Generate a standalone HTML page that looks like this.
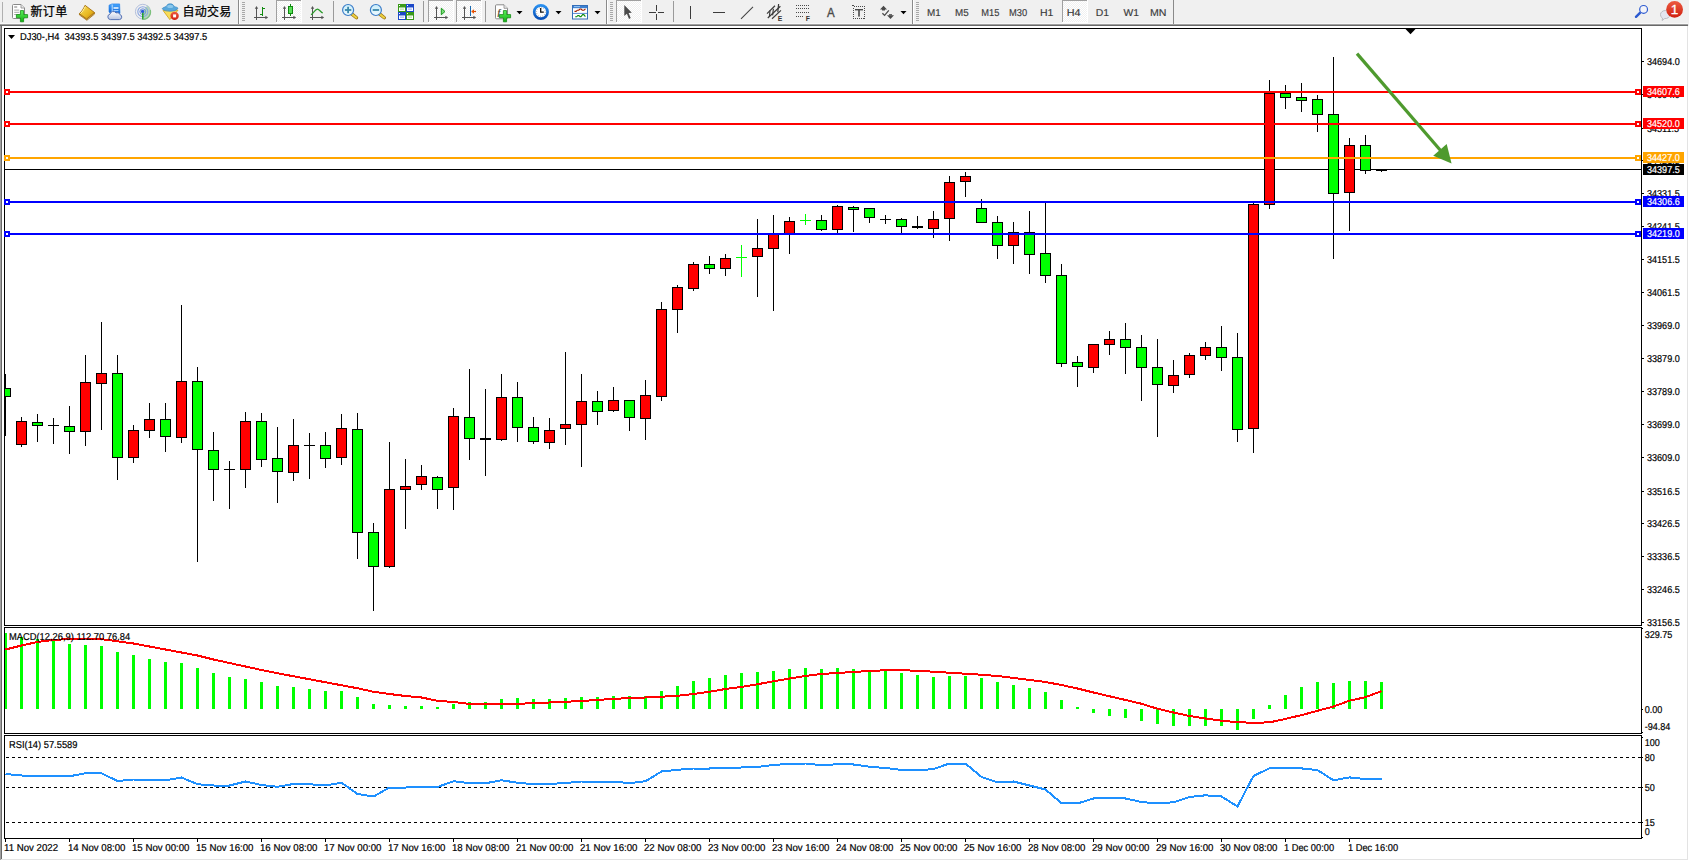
<!DOCTYPE html>
<html lang="zh"><head><meta charset="utf-8"><title>DJ30-,H4</title>
<style>
html,body{margin:0;padding:0;}
body{width:1689px;height:861px;overflow:hidden;background:#f0f0f0;position:relative;font-family:"Liberation Sans", Arial, sans-serif;}
#chart text{font-family:"Liberation Sans", Arial, sans-serif;font-size:10px;text-rendering:geometricPrecision;}
#tb{position:absolute;left:0;top:0;width:1689px;height:26px;background:#f0f0f0;}
#tb .l1{position:absolute;left:0;top:23px;width:1688px;height:1px;background:#f8f8f8}
#tb .l2{position:absolute;left:0;top:24px;width:1688px;height:1px;background:#a0a0a0}
#tb .l3{position:absolute;left:0;top:25px;width:1688px;height:1px;background:#696969}
</style></head><body>
<svg id="chart" width="1689" height="861" viewBox="0 0 1689 861" shape-rendering="crispEdges" style="position:absolute;left:0;top:0">
<rect x="0" y="26" width="1689" height="835" fill="#fff"/>
<rect x="0" y="24" width="1" height="836" fill="#a0a0a0"/>
<rect x="1" y="25" width="1" height="834" fill="#696969"/>
<rect x="1687" y="26" width="1" height="834" fill="#e3e3e3"/>
<rect x="1688" y="24" width="1" height="837" fill="#ffffff"/>
<rect x="1" y="859" width="1687" height="1" fill="#e3e3e3"/>
<rect x="0" y="860" width="1689" height="1" fill="#ffffff"/>
<rect x="4" y="28" width="1638" height="1" fill="#000"/>
<rect x="4" y="28" width="1" height="598" fill="#000"/>
<rect x="1641" y="28" width="1" height="598" fill="#000"/>
<rect x="4" y="627" width="1" height="107" fill="#000"/>
<rect x="1641" y="627" width="1" height="107" fill="#000"/>
<rect x="4" y="735" width="1" height="104" fill="#000"/>
<rect x="1641" y="735" width="1" height="104" fill="#000"/>
<rect x="4" y="625" width="1638" height="1" fill="#000"/>
<rect x="4" y="627" width="1638" height="1" fill="#000"/>
<rect x="4" y="733" width="1638" height="1" fill="#000"/>
<rect x="4" y="735" width="1638" height="1" fill="#000"/>
<rect x="4" y="838" width="1638" height="1" fill="#000"/>
<polygon points="1405.5,29 1415.5,29 1410.5,34.2" fill="#000" shape-rendering="geometricPrecision"/>
<defs><clipPath id="cm"><rect x="5" y="29" width="1636" height="596"/></clipPath></defs>
<g clip-path="url(#cm)">
<rect x="5" y="169" width="1636" height="1" fill="#000"/>
<rect x="5" y="374" width="1" height="62" fill="#000"/>
<rect x="0" y="388" width="11" height="9" fill="#000"/>
<rect x="1" y="389" width="9" height="7" fill="#00ff00"/>
<rect x="21" y="417" width="1" height="30" fill="#000"/>
<rect x="16" y="421" width="11" height="24" fill="#000"/>
<rect x="17" y="422" width="9" height="22" fill="#ff0000"/>
<rect x="37" y="414" width="1" height="28" fill="#000"/>
<rect x="32" y="422" width="11" height="4" fill="#000"/>
<rect x="33" y="423" width="9" height="2" fill="#00ff00"/>
<rect x="53" y="418" width="1" height="26" fill="#000"/>
<rect x="48" y="425" width="11" height="1" fill="#000"/>
<rect x="69" y="406" width="1" height="48" fill="#000"/>
<rect x="64" y="426" width="11" height="6" fill="#000"/>
<rect x="65" y="427" width="9" height="4" fill="#00ff00"/>
<rect x="85" y="355" width="1" height="91" fill="#000"/>
<rect x="80" y="382" width="11" height="50" fill="#000"/>
<rect x="81" y="383" width="9" height="48" fill="#ff0000"/>
<rect x="101" y="322" width="1" height="108" fill="#000"/>
<rect x="96" y="373" width="11" height="11" fill="#000"/>
<rect x="97" y="374" width="9" height="9" fill="#ff0000"/>
<rect x="117" y="355" width="1" height="125" fill="#000"/>
<rect x="112" y="373" width="11" height="85" fill="#000"/>
<rect x="113" y="374" width="9" height="83" fill="#00ff00"/>
<rect x="133" y="425" width="1" height="38" fill="#000"/>
<rect x="128" y="430" width="11" height="28" fill="#000"/>
<rect x="129" y="431" width="9" height="26" fill="#ff0000"/>
<rect x="149" y="403" width="1" height="35" fill="#000"/>
<rect x="144" y="419" width="11" height="12" fill="#000"/>
<rect x="145" y="420" width="9" height="10" fill="#ff0000"/>
<rect x="165" y="403" width="1" height="49" fill="#000"/>
<rect x="160" y="419" width="11" height="18" fill="#000"/>
<rect x="161" y="420" width="9" height="16" fill="#00ff00"/>
<rect x="181" y="305" width="1" height="138" fill="#000"/>
<rect x="176" y="381" width="11" height="57" fill="#000"/>
<rect x="177" y="382" width="9" height="55" fill="#ff0000"/>
<rect x="197" y="367" width="1" height="195" fill="#000"/>
<rect x="192" y="381" width="11" height="69" fill="#000"/>
<rect x="193" y="382" width="9" height="67" fill="#00ff00"/>
<rect x="213" y="432" width="1" height="69" fill="#000"/>
<rect x="208" y="450" width="11" height="20" fill="#000"/>
<rect x="209" y="451" width="9" height="18" fill="#00ff00"/>
<rect x="229" y="461" width="1" height="48" fill="#000"/>
<rect x="224" y="469" width="11" height="1" fill="#000"/>
<rect x="245" y="412" width="1" height="76" fill="#000"/>
<rect x="240" y="421" width="11" height="49" fill="#000"/>
<rect x="241" y="422" width="9" height="47" fill="#ff0000"/>
<rect x="261" y="413" width="1" height="54" fill="#000"/>
<rect x="256" y="421" width="11" height="39" fill="#000"/>
<rect x="257" y="422" width="9" height="37" fill="#00ff00"/>
<rect x="277" y="427" width="1" height="76" fill="#000"/>
<rect x="272" y="458" width="11" height="14" fill="#000"/>
<rect x="273" y="459" width="9" height="12" fill="#00ff00"/>
<rect x="293" y="419" width="1" height="62" fill="#000"/>
<rect x="288" y="445" width="11" height="28" fill="#000"/>
<rect x="289" y="446" width="9" height="26" fill="#ff0000"/>
<rect x="309" y="433" width="1" height="46" fill="#000"/>
<rect x="304" y="445" width="11" height="1" fill="#000"/>
<rect x="325" y="432" width="1" height="36" fill="#000"/>
<rect x="320" y="445" width="11" height="14" fill="#000"/>
<rect x="321" y="446" width="9" height="12" fill="#00ff00"/>
<rect x="341" y="414" width="1" height="51" fill="#000"/>
<rect x="336" y="428" width="11" height="30" fill="#000"/>
<rect x="337" y="429" width="9" height="28" fill="#ff0000"/>
<rect x="357" y="413" width="1" height="146" fill="#000"/>
<rect x="352" y="429" width="11" height="104" fill="#000"/>
<rect x="353" y="430" width="9" height="102" fill="#00ff00"/>
<rect x="373" y="523" width="1" height="88" fill="#000"/>
<rect x="368" y="532" width="11" height="35" fill="#000"/>
<rect x="369" y="533" width="9" height="33" fill="#00ff00"/>
<rect x="389" y="442" width="1" height="126" fill="#000"/>
<rect x="384" y="489" width="11" height="78" fill="#000"/>
<rect x="385" y="490" width="9" height="76" fill="#ff0000"/>
<rect x="405" y="459" width="1" height="70" fill="#000"/>
<rect x="400" y="486" width="11" height="4" fill="#000"/>
<rect x="401" y="487" width="9" height="2" fill="#ff0000"/>
<rect x="421" y="465" width="1" height="25" fill="#000"/>
<rect x="416" y="476" width="11" height="9" fill="#000"/>
<rect x="417" y="477" width="9" height="7" fill="#ff0000"/>
<rect x="437" y="476" width="1" height="33" fill="#000"/>
<rect x="432" y="477" width="11" height="13" fill="#000"/>
<rect x="433" y="478" width="9" height="11" fill="#00ff00"/>
<rect x="453" y="408" width="1" height="102" fill="#000"/>
<rect x="448" y="416" width="11" height="72" fill="#000"/>
<rect x="449" y="417" width="9" height="70" fill="#ff0000"/>
<rect x="469" y="369" width="1" height="91" fill="#000"/>
<rect x="464" y="417" width="11" height="22" fill="#000"/>
<rect x="465" y="418" width="9" height="20" fill="#00ff00"/>
<rect x="485" y="389" width="1" height="87" fill="#000"/>
<rect x="480" y="438" width="11" height="2" fill="#000"/>
<rect x="501" y="374" width="1" height="67" fill="#000"/>
<rect x="496" y="397" width="11" height="43" fill="#000"/>
<rect x="497" y="398" width="9" height="41" fill="#ff0000"/>
<rect x="517" y="382" width="1" height="60" fill="#000"/>
<rect x="512" y="397" width="11" height="31" fill="#000"/>
<rect x="513" y="398" width="9" height="29" fill="#00ff00"/>
<rect x="533" y="417" width="1" height="27" fill="#000"/>
<rect x="528" y="427" width="11" height="15" fill="#000"/>
<rect x="529" y="428" width="9" height="13" fill="#00ff00"/>
<rect x="549" y="418" width="1" height="31" fill="#000"/>
<rect x="544" y="430" width="11" height="13" fill="#000"/>
<rect x="545" y="431" width="9" height="11" fill="#ff0000"/>
<rect x="565" y="352" width="1" height="93" fill="#000"/>
<rect x="560" y="424" width="11" height="5" fill="#000"/>
<rect x="561" y="425" width="9" height="3" fill="#ff0000"/>
<rect x="581" y="374" width="1" height="93" fill="#000"/>
<rect x="576" y="401" width="11" height="24" fill="#000"/>
<rect x="577" y="402" width="9" height="22" fill="#ff0000"/>
<rect x="597" y="391" width="1" height="34" fill="#000"/>
<rect x="592" y="401" width="11" height="11" fill="#000"/>
<rect x="593" y="402" width="9" height="9" fill="#00ff00"/>
<rect x="613" y="387" width="1" height="25" fill="#000"/>
<rect x="608" y="400" width="11" height="11" fill="#000"/>
<rect x="609" y="401" width="9" height="9" fill="#ff0000"/>
<rect x="629" y="400" width="1" height="31" fill="#000"/>
<rect x="624" y="400" width="11" height="18" fill="#000"/>
<rect x="625" y="401" width="9" height="16" fill="#00ff00"/>
<rect x="645" y="380" width="1" height="60" fill="#000"/>
<rect x="640" y="395" width="11" height="24" fill="#000"/>
<rect x="641" y="396" width="9" height="22" fill="#ff0000"/>
<rect x="661" y="302" width="1" height="99" fill="#000"/>
<rect x="656" y="309" width="11" height="88" fill="#000"/>
<rect x="657" y="310" width="9" height="86" fill="#ff0000"/>
<rect x="677" y="285" width="1" height="48" fill="#000"/>
<rect x="672" y="287" width="11" height="23" fill="#000"/>
<rect x="673" y="288" width="9" height="21" fill="#ff0000"/>
<rect x="693" y="262" width="1" height="29" fill="#000"/>
<rect x="688" y="264" width="11" height="25" fill="#000"/>
<rect x="689" y="265" width="9" height="23" fill="#ff0000"/>
<rect x="709" y="256" width="1" height="18" fill="#000"/>
<rect x="704" y="264" width="11" height="5" fill="#000"/>
<rect x="705" y="265" width="9" height="3" fill="#00ff00"/>
<rect x="725" y="254" width="1" height="22" fill="#000"/>
<rect x="720" y="258" width="11" height="11" fill="#000"/>
<rect x="721" y="259" width="9" height="9" fill="#ff0000"/>
<rect x="741" y="245" width="1" height="32" fill="#00ff00"/>
<rect x="736" y="257" width="11" height="1" fill="#00ff00"/>
<rect x="757" y="219" width="1" height="78" fill="#000"/>
<rect x="752" y="248" width="11" height="9" fill="#000"/>
<rect x="753" y="249" width="9" height="7" fill="#ff0000"/>
<rect x="773" y="215" width="1" height="96" fill="#000"/>
<rect x="768" y="234" width="11" height="15" fill="#000"/>
<rect x="769" y="235" width="9" height="13" fill="#ff0000"/>
<rect x="789" y="217" width="1" height="37" fill="#000"/>
<rect x="784" y="221" width="11" height="14" fill="#000"/>
<rect x="785" y="222" width="9" height="12" fill="#ff0000"/>
<rect x="805" y="214" width="1" height="11" fill="#00ff00"/>
<rect x="800" y="220" width="11" height="1" fill="#00ff00"/>
<rect x="821" y="215" width="1" height="16" fill="#000"/>
<rect x="816" y="220" width="11" height="10" fill="#000"/>
<rect x="817" y="221" width="9" height="8" fill="#00ff00"/>
<rect x="837" y="205" width="1" height="28" fill="#000"/>
<rect x="832" y="206" width="11" height="24" fill="#000"/>
<rect x="833" y="207" width="9" height="22" fill="#ff0000"/>
<rect x="853" y="206" width="1" height="26" fill="#000"/>
<rect x="848" y="207" width="11" height="3" fill="#000"/>
<rect x="849" y="208" width="9" height="1" fill="#00ff00"/>
<rect x="869" y="208" width="1" height="15" fill="#000"/>
<rect x="864" y="208" width="11" height="10" fill="#000"/>
<rect x="865" y="209" width="9" height="8" fill="#00ff00"/>
<rect x="885" y="215" width="1" height="9" fill="#000"/>
<rect x="880" y="219" width="11" height="1" fill="#000"/>
<rect x="901" y="218" width="1" height="15" fill="#000"/>
<rect x="896" y="219" width="11" height="8" fill="#000"/>
<rect x="897" y="220" width="9" height="6" fill="#00ff00"/>
<rect x="917" y="216" width="1" height="13" fill="#000"/>
<rect x="912" y="226" width="11" height="2" fill="#000"/>
<rect x="933" y="211" width="1" height="27" fill="#000"/>
<rect x="928" y="219" width="11" height="10" fill="#000"/>
<rect x="929" y="220" width="9" height="8" fill="#ff0000"/>
<rect x="949" y="176" width="1" height="65" fill="#000"/>
<rect x="944" y="182" width="11" height="37" fill="#000"/>
<rect x="945" y="183" width="9" height="35" fill="#ff0000"/>
<rect x="965" y="172" width="1" height="25" fill="#000"/>
<rect x="960" y="176" width="11" height="6" fill="#000"/>
<rect x="961" y="177" width="9" height="4" fill="#ff0000"/>
<rect x="981" y="199" width="1" height="24" fill="#000"/>
<rect x="976" y="208" width="11" height="15" fill="#000"/>
<rect x="977" y="209" width="9" height="13" fill="#00ff00"/>
<rect x="997" y="216" width="1" height="43" fill="#000"/>
<rect x="992" y="222" width="11" height="24" fill="#000"/>
<rect x="993" y="223" width="9" height="22" fill="#00ff00"/>
<rect x="1013" y="222" width="1" height="42" fill="#000"/>
<rect x="1008" y="232" width="11" height="14" fill="#000"/>
<rect x="1009" y="233" width="9" height="12" fill="#ff0000"/>
<rect x="1029" y="211" width="1" height="63" fill="#000"/>
<rect x="1024" y="232" width="11" height="23" fill="#000"/>
<rect x="1025" y="233" width="9" height="21" fill="#00ff00"/>
<rect x="1045" y="201" width="1" height="82" fill="#000"/>
<rect x="1040" y="253" width="11" height="23" fill="#000"/>
<rect x="1041" y="254" width="9" height="21" fill="#00ff00"/>
<rect x="1061" y="264" width="1" height="103" fill="#000"/>
<rect x="1056" y="275" width="11" height="89" fill="#000"/>
<rect x="1057" y="276" width="9" height="87" fill="#00ff00"/>
<rect x="1077" y="356" width="1" height="31" fill="#000"/>
<rect x="1072" y="362" width="11" height="5" fill="#000"/>
<rect x="1073" y="363" width="9" height="3" fill="#00ff00"/>
<rect x="1093" y="344" width="1" height="29" fill="#000"/>
<rect x="1088" y="344" width="11" height="24" fill="#000"/>
<rect x="1089" y="345" width="9" height="22" fill="#ff0000"/>
<rect x="1109" y="331" width="1" height="24" fill="#000"/>
<rect x="1104" y="339" width="11" height="6" fill="#000"/>
<rect x="1105" y="340" width="9" height="4" fill="#ff0000"/>
<rect x="1125" y="323" width="1" height="51" fill="#000"/>
<rect x="1120" y="339" width="11" height="9" fill="#000"/>
<rect x="1121" y="340" width="9" height="7" fill="#00ff00"/>
<rect x="1141" y="335" width="1" height="66" fill="#000"/>
<rect x="1136" y="347" width="11" height="21" fill="#000"/>
<rect x="1137" y="348" width="9" height="19" fill="#00ff00"/>
<rect x="1157" y="339" width="1" height="98" fill="#000"/>
<rect x="1152" y="367" width="11" height="18" fill="#000"/>
<rect x="1153" y="368" width="9" height="16" fill="#00ff00"/>
<rect x="1173" y="360" width="1" height="33" fill="#000"/>
<rect x="1168" y="375" width="11" height="11" fill="#000"/>
<rect x="1169" y="376" width="9" height="9" fill="#ff0000"/>
<rect x="1189" y="353" width="1" height="25" fill="#000"/>
<rect x="1184" y="355" width="11" height="20" fill="#000"/>
<rect x="1185" y="356" width="9" height="18" fill="#ff0000"/>
<rect x="1205" y="342" width="1" height="18" fill="#000"/>
<rect x="1200" y="347" width="11" height="9" fill="#000"/>
<rect x="1201" y="348" width="9" height="7" fill="#ff0000"/>
<rect x="1221" y="326" width="1" height="45" fill="#000"/>
<rect x="1216" y="347" width="11" height="11" fill="#000"/>
<rect x="1217" y="348" width="9" height="9" fill="#00ff00"/>
<rect x="1237" y="333" width="1" height="109" fill="#000"/>
<rect x="1232" y="357" width="11" height="73" fill="#000"/>
<rect x="1233" y="358" width="9" height="71" fill="#00ff00"/>
<rect x="1253" y="203" width="1" height="250" fill="#000"/>
<rect x="1248" y="204" width="11" height="225" fill="#000"/>
<rect x="1249" y="205" width="9" height="223" fill="#ff0000"/>
<rect x="1269" y="80" width="1" height="129" fill="#000"/>
<rect x="1264" y="93" width="11" height="112" fill="#000"/>
<rect x="1265" y="94" width="9" height="110" fill="#ff0000"/>
<rect x="1285" y="85" width="1" height="24" fill="#000"/>
<rect x="1280" y="93" width="11" height="5" fill="#000"/>
<rect x="1281" y="94" width="9" height="3" fill="#00ff00"/>
<rect x="1301" y="83" width="1" height="29" fill="#000"/>
<rect x="1296" y="97" width="11" height="4" fill="#000"/>
<rect x="1297" y="98" width="9" height="2" fill="#00ff00"/>
<rect x="1317" y="95" width="1" height="37" fill="#000"/>
<rect x="1312" y="99" width="11" height="16" fill="#000"/>
<rect x="1313" y="100" width="9" height="14" fill="#00ff00"/>
<rect x="1333" y="57" width="1" height="202" fill="#000"/>
<rect x="1328" y="114" width="11" height="80" fill="#000"/>
<rect x="1329" y="115" width="9" height="78" fill="#00ff00"/>
<rect x="1349" y="138" width="1" height="93" fill="#000"/>
<rect x="1344" y="145" width="11" height="48" fill="#000"/>
<rect x="1345" y="146" width="9" height="46" fill="#ff0000"/>
<rect x="1365" y="135" width="1" height="39" fill="#000"/>
<rect x="1360" y="145" width="11" height="26" fill="#000"/>
<rect x="1361" y="146" width="9" height="24" fill="#00ff00"/>
<rect x="1381" y="170" width="1" height="2" fill="#000"/>
<rect x="1376" y="170" width="11" height="1" fill="#000"/>
</g>
<rect x="5" y="91" width="1636" height="2" fill="#ff0000"/>
<rect x="4" y="89" width="6" height="6" fill="#ff0000"/>
<rect x="6" y="91" width="2" height="2" fill="#fff"/>
<rect x="1635" y="89" width="6" height="6" fill="#ff0000"/>
<rect x="1637" y="91" width="2" height="2" fill="#fff"/>
<rect x="5" y="123" width="1636" height="2" fill="#ff0000"/>
<rect x="4" y="121" width="6" height="6" fill="#ff0000"/>
<rect x="6" y="123" width="2" height="2" fill="#fff"/>
<rect x="1635" y="121" width="6" height="6" fill="#ff0000"/>
<rect x="1637" y="123" width="2" height="2" fill="#fff"/>
<rect x="5" y="157" width="1636" height="2" fill="#ffa500"/>
<rect x="4" y="155" width="6" height="6" fill="#ffa500"/>
<rect x="6" y="157" width="2" height="2" fill="#fff"/>
<rect x="1635" y="155" width="6" height="6" fill="#ffa500"/>
<rect x="1637" y="157" width="2" height="2" fill="#fff"/>
<rect x="5" y="201" width="1636" height="2" fill="#0000ff"/>
<rect x="4" y="199" width="6" height="6" fill="#0000ff"/>
<rect x="6" y="201" width="2" height="2" fill="#fff"/>
<rect x="1635" y="199" width="6" height="6" fill="#0000ff"/>
<rect x="1637" y="201" width="2" height="2" fill="#fff"/>
<rect x="5" y="233" width="1636" height="2" fill="#0000ff"/>
<rect x="4" y="231" width="6" height="6" fill="#0000ff"/>
<rect x="6" y="233" width="2" height="2" fill="#fff"/>
<rect x="1635" y="231" width="6" height="6" fill="#0000ff"/>
<rect x="1637" y="233" width="2" height="2" fill="#fff"/>
<g shape-rendering="geometricPrecision"><line x1="1357" y1="53.6" x2="1441" y2="151" stroke="#4e9a2e" stroke-width="3.2"/><polygon points="1451.6,163.4 1433.2,155.8 1446.7,144.1" fill="#4e9a2e"/></g>
<defs><clipPath id="ca"><rect x="1642" y="29" width="45" height="598"/></clipPath></defs>
<g clip-path="url(#ca)">
<rect x="1642" y="61" width="2" height="1" fill="#000"/>
<text transform="translate(1647 64.5) scale(0.9050 1.0)" fill="#000" stroke="#000" stroke-width="0.2" >34694.0</text>
<rect x="1642" y="94" width="2" height="1" fill="#000"/>
<text transform="translate(1647 97.5) scale(0.9050 1.0)" fill="#000" stroke="#000" stroke-width="0.2" >34604.0</text>
<rect x="1642" y="128" width="2" height="1" fill="#000"/>
<text transform="translate(1647 131.5) scale(0.9050 1.0)" fill="#000" stroke="#000" stroke-width="0.2" >34511.5</text>
<rect x="1642" y="160" width="2" height="1" fill="#000"/>
<text transform="translate(1647 163.5) scale(0.9050 1.0)" fill="#000" stroke="#000" stroke-width="0.2" >34421.5</text>
<rect x="1642" y="193" width="2" height="1" fill="#000"/>
<text transform="translate(1647 196.5) scale(0.9050 1.0)" fill="#000" stroke="#000" stroke-width="0.2" >34331.5</text>
<rect x="1642" y="226" width="2" height="1" fill="#000"/>
<text transform="translate(1647 229.5) scale(0.9050 1.0)" fill="#000" stroke="#000" stroke-width="0.2" >34241.5</text>
<rect x="1642" y="259" width="2" height="1" fill="#000"/>
<text transform="translate(1647 262.5) scale(0.9050 1.0)" fill="#000" stroke="#000" stroke-width="0.2" >34151.5</text>
<rect x="1642" y="292" width="2" height="1" fill="#000"/>
<text transform="translate(1647 295.5) scale(0.9050 1.0)" fill="#000" stroke="#000" stroke-width="0.2" >34061.5</text>
<rect x="1642" y="325" width="2" height="1" fill="#000"/>
<text transform="translate(1647 328.5) scale(0.9050 1.0)" fill="#000" stroke="#000" stroke-width="0.2" >33969.0</text>
<rect x="1642" y="358" width="2" height="1" fill="#000"/>
<text transform="translate(1647 361.5) scale(0.9050 1.0)" fill="#000" stroke="#000" stroke-width="0.2" >33879.0</text>
<rect x="1642" y="391" width="2" height="1" fill="#000"/>
<text transform="translate(1647 394.5) scale(0.9050 1.0)" fill="#000" stroke="#000" stroke-width="0.2" >33789.0</text>
<rect x="1642" y="424" width="2" height="1" fill="#000"/>
<text transform="translate(1647 427.5) scale(0.9050 1.0)" fill="#000" stroke="#000" stroke-width="0.2" >33699.0</text>
<rect x="1642" y="457" width="2" height="1" fill="#000"/>
<text transform="translate(1647 460.5) scale(0.9050 1.0)" fill="#000" stroke="#000" stroke-width="0.2" >33609.0</text>
<rect x="1642" y="491" width="2" height="1" fill="#000"/>
<text transform="translate(1647 494.5) scale(0.9050 1.0)" fill="#000" stroke="#000" stroke-width="0.2" >33516.5</text>
<rect x="1642" y="523" width="2" height="1" fill="#000"/>
<text transform="translate(1647 526.5) scale(0.9050 1.0)" fill="#000" stroke="#000" stroke-width="0.2" >33426.5</text>
<rect x="1642" y="556" width="2" height="1" fill="#000"/>
<text transform="translate(1647 559.5) scale(0.9050 1.0)" fill="#000" stroke="#000" stroke-width="0.2" >33336.5</text>
<rect x="1642" y="589" width="2" height="1" fill="#000"/>
<text transform="translate(1647 592.5) scale(0.9050 1.0)" fill="#000" stroke="#000" stroke-width="0.2" >33246.5</text>
<rect x="1642" y="622" width="2" height="1" fill="#000"/>
<text transform="translate(1647 625.5) scale(0.9050 1.0)" fill="#000" stroke="#000" stroke-width="0.2" >33156.5</text>
</g>
<rect x="1643" y="86" width="41" height="11" fill="#ff0000"/>
<text transform="translate(1647 94.5) scale(0.9050 1.0)" fill="#fff" stroke="#fff" stroke-width="0.2" >34607.6</text>
<rect x="1643" y="118" width="41" height="11" fill="#ff0000"/>
<text transform="translate(1647 126.5) scale(0.9050 1.0)" fill="#fff" stroke="#fff" stroke-width="0.2" >34520.0</text>
<rect x="1643" y="152" width="41" height="11" fill="#ffa500"/>
<text transform="translate(1647 160.5) scale(0.9050 1.0)" fill="#fff" stroke="#fff" stroke-width="0.2" >34427.0</text>
<rect x="1643" y="196" width="41" height="11" fill="#0000ff"/>
<text transform="translate(1647 204.5) scale(0.9050 1.0)" fill="#fff" stroke="#fff" stroke-width="0.2" >34306.6</text>
<rect x="1643" y="228" width="41" height="11" fill="#0000ff"/>
<text transform="translate(1647 236.5) scale(0.9050 1.0)" fill="#fff" stroke="#fff" stroke-width="0.2" >34219.0</text>
<rect x="1643" y="164" width="41" height="11" fill="#000000"/>
<text transform="translate(1647 172.5) scale(0.9050 1.0)" fill="#fff" stroke="#fff" stroke-width="0.2" >34397.5</text>
<polygon points="8,35 15,35 11.5,39" fill="#000" shape-rendering="geometricPrecision"/>
<text transform="translate(20 40) scale(0.9330 1.0)" fill="#000" stroke="#000" stroke-width="0.2" xml:space="preserve">DJ30-,H4  34393.5 34397.5 34392.5 34397.5</text>
<defs><clipPath id="cmac"><rect x="5" y="628" width="1636" height="105"/></clipPath></defs>
<g clip-path="url(#cmac)">
<rect x="4" y="633" width="3" height="76" fill="#00ff00"/>
<rect x="20" y="637" width="3" height="72" fill="#00ff00"/>
<rect x="36" y="639" width="3" height="70" fill="#00ff00"/>
<rect x="52" y="641" width="3" height="68" fill="#00ff00"/>
<rect x="68" y="644" width="3" height="65" fill="#00ff00"/>
<rect x="84" y="645" width="3" height="64" fill="#00ff00"/>
<rect x="100" y="646" width="3" height="63" fill="#00ff00"/>
<rect x="116" y="652" width="3" height="57" fill="#00ff00"/>
<rect x="132" y="655" width="3" height="54" fill="#00ff00"/>
<rect x="148" y="659" width="3" height="50" fill="#00ff00"/>
<rect x="164" y="662" width="3" height="47" fill="#00ff00"/>
<rect x="180" y="663" width="3" height="46" fill="#00ff00"/>
<rect x="196" y="668" width="3" height="41" fill="#00ff00"/>
<rect x="212" y="673" width="3" height="36" fill="#00ff00"/>
<rect x="228" y="677" width="3" height="32" fill="#00ff00"/>
<rect x="244" y="679" width="3" height="30" fill="#00ff00"/>
<rect x="260" y="682" width="3" height="27" fill="#00ff00"/>
<rect x="276" y="686" width="3" height="23" fill="#00ff00"/>
<rect x="292" y="687" width="3" height="22" fill="#00ff00"/>
<rect x="308" y="689" width="3" height="20" fill="#00ff00"/>
<rect x="324" y="691" width="3" height="18" fill="#00ff00"/>
<rect x="340" y="691" width="3" height="18" fill="#00ff00"/>
<rect x="356" y="697" width="3" height="12" fill="#00ff00"/>
<rect x="372" y="704" width="3" height="5" fill="#00ff00"/>
<rect x="388" y="705" width="3" height="4" fill="#00ff00"/>
<rect x="404" y="706" width="3" height="3" fill="#00ff00"/>
<rect x="420" y="706" width="3" height="3" fill="#00ff00"/>
<rect x="436" y="707" width="3" height="2" fill="#00ff00"/>
<rect x="452" y="704" width="3" height="5" fill="#00ff00"/>
<rect x="468" y="702" width="3" height="7" fill="#00ff00"/>
<rect x="484" y="702" width="3" height="7" fill="#00ff00"/>
<rect x="500" y="699" width="3" height="10" fill="#00ff00"/>
<rect x="516" y="698" width="3" height="11" fill="#00ff00"/>
<rect x="532" y="699" width="3" height="10" fill="#00ff00"/>
<rect x="548" y="699" width="3" height="10" fill="#00ff00"/>
<rect x="564" y="698" width="3" height="11" fill="#00ff00"/>
<rect x="580" y="697" width="3" height="12" fill="#00ff00"/>
<rect x="596" y="697" width="3" height="12" fill="#00ff00"/>
<rect x="612" y="696" width="3" height="13" fill="#00ff00"/>
<rect x="628" y="696" width="3" height="13" fill="#00ff00"/>
<rect x="644" y="696" width="3" height="13" fill="#00ff00"/>
<rect x="660" y="691" width="3" height="18" fill="#00ff00"/>
<rect x="676" y="686" width="3" height="23" fill="#00ff00"/>
<rect x="692" y="681" width="3" height="28" fill="#00ff00"/>
<rect x="708" y="678" width="3" height="31" fill="#00ff00"/>
<rect x="724" y="675" width="3" height="34" fill="#00ff00"/>
<rect x="740" y="673" width="3" height="36" fill="#00ff00"/>
<rect x="756" y="672" width="3" height="37" fill="#00ff00"/>
<rect x="772" y="671" width="3" height="38" fill="#00ff00"/>
<rect x="788" y="669" width="3" height="40" fill="#00ff00"/>
<rect x="804" y="668" width="3" height="41" fill="#00ff00"/>
<rect x="820" y="669" width="3" height="40" fill="#00ff00"/>
<rect x="836" y="668" width="3" height="41" fill="#00ff00"/>
<rect x="852" y="669" width="3" height="40" fill="#00ff00"/>
<rect x="868" y="670" width="3" height="39" fill="#00ff00"/>
<rect x="884" y="671" width="3" height="38" fill="#00ff00"/>
<rect x="900" y="673" width="3" height="36" fill="#00ff00"/>
<rect x="916" y="675" width="3" height="34" fill="#00ff00"/>
<rect x="932" y="677" width="3" height="32" fill="#00ff00"/>
<rect x="948" y="676" width="3" height="33" fill="#00ff00"/>
<rect x="964" y="676" width="3" height="33" fill="#00ff00"/>
<rect x="980" y="678" width="3" height="31" fill="#00ff00"/>
<rect x="996" y="682" width="3" height="27" fill="#00ff00"/>
<rect x="1012" y="685" width="3" height="24" fill="#00ff00"/>
<rect x="1028" y="688" width="3" height="21" fill="#00ff00"/>
<rect x="1044" y="692" width="3" height="17" fill="#00ff00"/>
<rect x="1060" y="700" width="3" height="9" fill="#00ff00"/>
<rect x="1076" y="707" width="3" height="2" fill="#00ff00"/>
<rect x="1092" y="709" width="3" height="4" fill="#00ff00"/>
<rect x="1108" y="709" width="3" height="7" fill="#00ff00"/>
<rect x="1124" y="709" width="3" height="9" fill="#00ff00"/>
<rect x="1140" y="709" width="3" height="12" fill="#00ff00"/>
<rect x="1156" y="709" width="3" height="15" fill="#00ff00"/>
<rect x="1172" y="709" width="3" height="17" fill="#00ff00"/>
<rect x="1188" y="709" width="3" height="17" fill="#00ff00"/>
<rect x="1204" y="709" width="3" height="17" fill="#00ff00"/>
<rect x="1220" y="709" width="3" height="17" fill="#00ff00"/>
<rect x="1236" y="709" width="3" height="21" fill="#00ff00"/>
<rect x="1252" y="709" width="3" height="10" fill="#00ff00"/>
<rect x="1268" y="705" width="3" height="4" fill="#00ff00"/>
<rect x="1284" y="695" width="3" height="14" fill="#00ff00"/>
<rect x="1300" y="687" width="3" height="22" fill="#00ff00"/>
<rect x="1316" y="682" width="3" height="27" fill="#00ff00"/>
<rect x="1332" y="683" width="3" height="26" fill="#00ff00"/>
<rect x="1348" y="681" width="3" height="28" fill="#00ff00"/>
<rect x="1364" y="681" width="3" height="28" fill="#00ff00"/>
<rect x="1380" y="682" width="3" height="27" fill="#00ff00"/>
<polyline points="5.5,649.5 21.5,645.5 37.5,642.0 53.5,640.0 69.5,639.0 85.5,638.5 101.5,639.25 117.5,641.25 133.5,643.5 149.5,646.5 165.5,649.5 181.5,652.5 197.5,655.5 213.5,659.5 229.5,663.0 245.5,666.5 261.5,670.0 277.5,673.25 293.5,676.25 309.5,679.25 325.5,682.25 341.5,685.25 357.5,688.25 373.5,691.75 389.5,694.0 405.5,696.0 421.5,697.5 437.5,700.75 453.5,702.0 469.5,704.0 485.5,704.25 501.5,704.25 517.5,704.0 533.5,703.0 549.5,702.5 565.5,701.75 581.5,701.0 597.5,700.0 613.5,698.75 629.5,698.25 645.5,697.5 661.5,696.75 677.5,695.75 693.5,694.0 709.5,691.75 725.5,689.0 741.5,687.0 757.5,684.25 773.5,681.25 789.5,678.5 805.5,676.0 821.5,674.0 837.5,673.0 853.5,672.0 869.5,671.0 885.5,670.25 901.5,670.25 917.5,670.75 933.5,671.75 949.5,672.75 965.5,673.75 981.5,674.75 997.5,676.0 1013.5,678.0 1029.5,680.0 1045.5,682.0 1061.5,685.0 1077.5,688.5 1093.5,692.5 1109.5,696.25 1125.5,700.0 1141.5,703.75 1157.5,708.75 1173.5,712.5 1189.5,716.0 1205.5,718.5 1221.5,720.7 1237.5,722.3 1253.5,722.7 1269.5,722.4 1285.5,718.9 1301.5,715.1 1317.5,710.8 1333.5,706.5 1349.5,700.7 1365.5,697.2 1381.5,691.1" fill="none" stroke="#ff0000" stroke-width="2" shape-rendering="crispEdges" stroke-linejoin="round"/>
</g>
<text transform="translate(9 640) scale(0.9330 1.0)" fill="#000" stroke="#000" stroke-width="0.2" >MACD(12,26,9) 112.70 76.84</text>
<rect x="1642" y="628" width="1" height="1" fill="#000"/>
<rect x="1642" y="732" width="1" height="1" fill="#000"/>
<rect x="1642" y="737" width="1" height="1" fill="#000"/>
<rect x="1642" y="837" width="1" height="1" fill="#000"/>
<text transform="translate(1644.7 637.5) scale(0.9050 1.0)" fill="#000" stroke="#000" stroke-width="0.2" >329.75</text>
<rect x="1642" y="709" width="1" height="1" fill="#000"/>
<text transform="translate(1644.7 712.5) scale(0.9050 1.0)" fill="#000" stroke="#000" stroke-width="0.2" >0.00</text>
<text transform="translate(1644.7 729.5) scale(0.9050 1.0)" fill="#000" stroke="#000" stroke-width="0.2" >-94.84</text>
<path d="M6 757.5H1641" stroke="#000" stroke-width="1" stroke-dasharray="3 3" fill="none"/>
<path d="M6 787.5H1641" stroke="#000" stroke-width="1" stroke-dasharray="3 3" fill="none"/>
<path d="M6 822.5H1641" stroke="#000" stroke-width="1" stroke-dasharray="3 3" fill="none"/>
<defs><clipPath id="crsi"><rect x="5" y="736" width="1636" height="102"/></clipPath></defs>
<g clip-path="url(#crsi)">
<polyline points="5.5,774.0 21.5,775.5 37.5,775.5 53.5,776.0 69.5,776.25 85.5,773.25 101.5,773.25 117.5,781.0 133.5,779.5 149.5,779.5 165.5,780.25 181.5,777.5 197.5,784.25 213.5,785.5 229.5,785.5 245.5,781.5 261.5,785.0 277.5,786.75 293.5,784.0 309.5,784.25 325.5,785.5 341.5,782.75 357.5,794.0 373.5,796.5 389.5,787.5 405.5,787.5 421.5,787.25 437.5,787.0 453.5,781.25 469.5,783.25 485.5,783.25 501.5,780.25 517.5,782.75 533.5,784.25 549.5,784.0 565.5,783.0 581.5,781.5 597.5,781.5 613.5,781.5 629.5,783.25 645.5,781.25 661.5,771.5 677.5,769.75 693.5,768.5 709.5,768.5 725.5,767.75 741.5,767.5 757.5,767.0 773.5,765.0 789.5,763.75 805.5,763.5 821.5,765.25 837.5,764.25 853.5,764.5 869.5,766.75 885.5,768.0 901.5,770.0 917.5,770.5 933.5,769.0 949.5,763.5 965.5,763.5 981.5,777.0 997.5,782.25 1013.5,781.5 1029.5,785.5 1045.5,789.5 1061.5,803.25 1077.5,803.5 1093.5,798.5 1109.5,798.25 1125.5,798.5 1141.5,802.0 1157.5,803.5 1173.5,802.25 1189.5,797.0 1205.5,795.3 1221.5,796.5 1237.5,806.5 1253.5,775.9 1269.5,768.4 1285.5,768.4 1301.5,768.4 1317.5,770.1 1333.5,780.3 1349.5,777.4 1365.5,779.1 1381.5,779.1" fill="none" stroke="#1e90ff" stroke-width="2" shape-rendering="crispEdges" stroke-linejoin="round"/>
</g>
<text transform="translate(9 748) scale(0.9330 1.0)" fill="#000" stroke="#000" stroke-width="0.2" >RSI(14) 57.5589</text>
<text transform="translate(1644.7 745.5) scale(0.9050 1.0)" fill="#000" stroke="#000" stroke-width="0.2" >100</text>
<rect x="1642" y="757" width="1" height="1" fill="#000"/>
<text transform="translate(1644.7 760.5) scale(0.9050 1.0)" fill="#000" stroke="#000" stroke-width="0.2" >80</text>
<rect x="1642" y="787" width="1" height="1" fill="#000"/>
<text transform="translate(1644.7 790.5) scale(0.9050 1.0)" fill="#000" stroke="#000" stroke-width="0.2" >50</text>
<rect x="1642" y="822" width="1" height="1" fill="#000"/>
<text transform="translate(1644.7 825.5) scale(0.9050 1.0)" fill="#000" stroke="#000" stroke-width="0.2" >15</text>
<text transform="translate(1644.7 834.5) scale(0.9050 1.0)" fill="#000" stroke="#000" stroke-width="0.2" >0</text>
<rect x="5" y="839" width="1" height="3" fill="#000"/>
<text transform="translate(4 851) scale(0.9657 1.0)" fill="#000" stroke="#000" stroke-width="0.2" >11 Nov 2022</text>
<rect x="69" y="839" width="1" height="3" fill="#000"/>
<text transform="translate(68 851) scale(0.9657 1.0)" fill="#000" stroke="#000" stroke-width="0.2" >14 Nov 08:00</text>
<rect x="133" y="839" width="1" height="3" fill="#000"/>
<text transform="translate(132 851) scale(0.9657 1.0)" fill="#000" stroke="#000" stroke-width="0.2" >15 Nov 00:00</text>
<rect x="197" y="839" width="1" height="3" fill="#000"/>
<text transform="translate(196 851) scale(0.9657 1.0)" fill="#000" stroke="#000" stroke-width="0.2" >15 Nov 16:00</text>
<rect x="261" y="839" width="1" height="3" fill="#000"/>
<text transform="translate(260 851) scale(0.9657 1.0)" fill="#000" stroke="#000" stroke-width="0.2" >16 Nov 08:00</text>
<rect x="325" y="839" width="1" height="3" fill="#000"/>
<text transform="translate(324 851) scale(0.9657 1.0)" fill="#000" stroke="#000" stroke-width="0.2" >17 Nov 00:00</text>
<rect x="389" y="839" width="1" height="3" fill="#000"/>
<text transform="translate(388 851) scale(0.9657 1.0)" fill="#000" stroke="#000" stroke-width="0.2" >17 Nov 16:00</text>
<rect x="453" y="839" width="1" height="3" fill="#000"/>
<text transform="translate(452 851) scale(0.9657 1.0)" fill="#000" stroke="#000" stroke-width="0.2" >18 Nov 08:00</text>
<rect x="517" y="839" width="1" height="3" fill="#000"/>
<text transform="translate(516 851) scale(0.9657 1.0)" fill="#000" stroke="#000" stroke-width="0.2" >21 Nov 00:00</text>
<rect x="581" y="839" width="1" height="3" fill="#000"/>
<text transform="translate(580 851) scale(0.9657 1.0)" fill="#000" stroke="#000" stroke-width="0.2" >21 Nov 16:00</text>
<rect x="645" y="839" width="1" height="3" fill="#000"/>
<text transform="translate(644 851) scale(0.9657 1.0)" fill="#000" stroke="#000" stroke-width="0.2" >22 Nov 08:00</text>
<rect x="709" y="839" width="1" height="3" fill="#000"/>
<text transform="translate(708 851) scale(0.9657 1.0)" fill="#000" stroke="#000" stroke-width="0.2" >23 Nov 00:00</text>
<rect x="773" y="839" width="1" height="3" fill="#000"/>
<text transform="translate(772 851) scale(0.9657 1.0)" fill="#000" stroke="#000" stroke-width="0.2" >23 Nov 16:00</text>
<rect x="837" y="839" width="1" height="3" fill="#000"/>
<text transform="translate(836 851) scale(0.9657 1.0)" fill="#000" stroke="#000" stroke-width="0.2" >24 Nov 08:00</text>
<rect x="901" y="839" width="1" height="3" fill="#000"/>
<text transform="translate(900 851) scale(0.9657 1.0)" fill="#000" stroke="#000" stroke-width="0.2" >25 Nov 00:00</text>
<rect x="965" y="839" width="1" height="3" fill="#000"/>
<text transform="translate(964 851) scale(0.9657 1.0)" fill="#000" stroke="#000" stroke-width="0.2" >25 Nov 16:00</text>
<rect x="1029" y="839" width="1" height="3" fill="#000"/>
<text transform="translate(1028 851) scale(0.9657 1.0)" fill="#000" stroke="#000" stroke-width="0.2" >28 Nov 08:00</text>
<rect x="1093" y="839" width="1" height="3" fill="#000"/>
<text transform="translate(1092 851) scale(0.9657 1.0)" fill="#000" stroke="#000" stroke-width="0.2" >29 Nov 00:00</text>
<rect x="1157" y="839" width="1" height="3" fill="#000"/>
<text transform="translate(1156 851) scale(0.9657 1.0)" fill="#000" stroke="#000" stroke-width="0.2" >29 Nov 16:00</text>
<rect x="1221" y="839" width="1" height="3" fill="#000"/>
<text transform="translate(1220 851) scale(0.9657 1.0)" fill="#000" stroke="#000" stroke-width="0.2" >30 Nov 08:00</text>
<rect x="1285" y="839" width="1" height="3" fill="#000"/>
<text transform="translate(1284 851) scale(0.9283 1.0)" fill="#000" stroke="#000" stroke-width="0.2" >1 Dec 00:00</text>
<rect x="1349" y="839" width="1" height="3" fill="#000"/>
<text transform="translate(1348 851) scale(0.9283 1.0)" fill="#000" stroke="#000" stroke-width="0.2" >1 Dec 16:00</text>
</svg>
<div id="tb"><div class="l1"></div><div class="l2"></div><div class="l3"></div>
<svg id="tbs" width="1689" height="26" viewBox="0 0 1689 26" style="position:absolute;left:0;top:0">
<defs><linearGradient id="gplus" x1="0" y1="0" x2="0" y2="1"><stop offset="0" stop-color="#5cf05c"/><stop offset="1" stop-color="#10b010"/></linearGradient><linearGradient id="ggold" x1="0" y1="0" x2="1" y2="1"><stop offset="0" stop-color="#f8e060"/><stop offset="0.6" stop-color="#e8b820"/><stop offset="1" stop-color="#b87810"/></linearGradient><linearGradient id="gblue" x1="0" y1="0" x2="0" y2="1"><stop offset="0" stop-color="#48a8ff"/><stop offset="1" stop-color="#1060d0"/></linearGradient><linearGradient id="gcloud" x1="0" y1="0" x2="0" y2="1"><stop offset="0" stop-color="#ffffff"/><stop offset="1" stop-color="#b8c4e0"/></linearGradient><linearGradient id="gred" x1="0" y1="0" x2="0" y2="1"><stop offset="0" stop-color="#ec5a40"/><stop offset="1" stop-color="#d02010"/></linearGradient><linearGradient id="glens" x1="0" y1="0" x2="0" y2="1"><stop offset="0" stop-color="#c8ecfa"/><stop offset="1" stop-color="#eefaff"/></linearGradient><pattern id="chk" width="2" height="2" patternUnits="userSpaceOnUse"><rect width="2" height="2" fill="#f0f0f0"/><rect width="1" height="1" fill="#fff"/><rect x="1" y="1" width="1" height="1" fill="#fff"/></pattern><linearGradient id="gblue2" x1="0" y1="0" x2="0" y2="1"><stop offset="0" stop-color="#2a90f0"/><stop offset="1" stop-color="#0850b8"/></linearGradient></defs>
<rect x="2" y="2" width="1" height="20" fill="#b0b0b0" shape-rendering="crispEdges"/>
<rect x="238" y="0" width="1" height="24" fill="#8a8a8a" shape-rendering="crispEdges"/>
<rect x="239" y="0" width="1" height="24" fill="#ffffff" shape-rendering="crispEdges"/>
<rect x="606" y="0" width="1" height="24" fill="#8a8a8a" shape-rendering="crispEdges"/>
<rect x="607" y="0" width="1" height="24" fill="#ffffff" shape-rendering="crispEdges"/>
<rect x="912" y="0" width="1" height="24" fill="#8a8a8a" shape-rendering="crispEdges"/>
<rect x="913" y="0" width="1" height="24" fill="#ffffff" shape-rendering="crispEdges"/>
<rect x="1173" y="0" width="1" height="24" fill="#8a8a8a" shape-rendering="crispEdges"/>
<rect x="242" y="2" width="3" height="1" fill="#a8a8a8" shape-rendering="crispEdges"/>
<rect x="242" y="4" width="3" height="1" fill="#a8a8a8" shape-rendering="crispEdges"/>
<rect x="242" y="6" width="3" height="1" fill="#a8a8a8" shape-rendering="crispEdges"/>
<rect x="242" y="8" width="3" height="1" fill="#a8a8a8" shape-rendering="crispEdges"/>
<rect x="242" y="10" width="3" height="1" fill="#a8a8a8" shape-rendering="crispEdges"/>
<rect x="242" y="12" width="3" height="1" fill="#a8a8a8" shape-rendering="crispEdges"/>
<rect x="242" y="14" width="3" height="1" fill="#a8a8a8" shape-rendering="crispEdges"/>
<rect x="242" y="16" width="3" height="1" fill="#a8a8a8" shape-rendering="crispEdges"/>
<rect x="242" y="18" width="3" height="1" fill="#a8a8a8" shape-rendering="crispEdges"/>
<rect x="242" y="20" width="3" height="1" fill="#a8a8a8" shape-rendering="crispEdges"/>
<rect x="610" y="2" width="3" height="1" fill="#a8a8a8" shape-rendering="crispEdges"/>
<rect x="610" y="4" width="3" height="1" fill="#a8a8a8" shape-rendering="crispEdges"/>
<rect x="610" y="6" width="3" height="1" fill="#a8a8a8" shape-rendering="crispEdges"/>
<rect x="610" y="8" width="3" height="1" fill="#a8a8a8" shape-rendering="crispEdges"/>
<rect x="610" y="10" width="3" height="1" fill="#a8a8a8" shape-rendering="crispEdges"/>
<rect x="610" y="12" width="3" height="1" fill="#a8a8a8" shape-rendering="crispEdges"/>
<rect x="610" y="14" width="3" height="1" fill="#a8a8a8" shape-rendering="crispEdges"/>
<rect x="610" y="16" width="3" height="1" fill="#a8a8a8" shape-rendering="crispEdges"/>
<rect x="610" y="18" width="3" height="1" fill="#a8a8a8" shape-rendering="crispEdges"/>
<rect x="610" y="20" width="3" height="1" fill="#a8a8a8" shape-rendering="crispEdges"/>
<rect x="916" y="2" width="3" height="1" fill="#a8a8a8" shape-rendering="crispEdges"/>
<rect x="916" y="4" width="3" height="1" fill="#a8a8a8" shape-rendering="crispEdges"/>
<rect x="916" y="6" width="3" height="1" fill="#a8a8a8" shape-rendering="crispEdges"/>
<rect x="916" y="8" width="3" height="1" fill="#a8a8a8" shape-rendering="crispEdges"/>
<rect x="916" y="10" width="3" height="1" fill="#a8a8a8" shape-rendering="crispEdges"/>
<rect x="916" y="12" width="3" height="1" fill="#a8a8a8" shape-rendering="crispEdges"/>
<rect x="916" y="14" width="3" height="1" fill="#a8a8a8" shape-rendering="crispEdges"/>
<rect x="916" y="16" width="3" height="1" fill="#a8a8a8" shape-rendering="crispEdges"/>
<rect x="916" y="18" width="3" height="1" fill="#a8a8a8" shape-rendering="crispEdges"/>
<rect x="916" y="20" width="3" height="1" fill="#a8a8a8" shape-rendering="crispEdges"/>
<rect x="333" y="1" width="1" height="21" fill="#9a9a9a" shape-rendering="crispEdges"/>
<rect x="423" y="1" width="1" height="21" fill="#9a9a9a" shape-rendering="crispEdges"/>
<rect x="485" y="1" width="1" height="21" fill="#9a9a9a" shape-rendering="crispEdges"/>
<rect x="673" y="1" width="1" height="21" fill="#9a9a9a" shape-rendering="crispEdges"/>
<rect x="276" y="0" width="25" height="22" fill="url(#chk)" shape-rendering="crispEdges"/>
<rect x="276" y="0" width="25" height="1" fill="#a0a0a0" shape-rendering="crispEdges"/>
<rect x="276" y="0" width="1" height="22" fill="#a0a0a0" shape-rendering="crispEdges"/>
<rect x="301" y="0" width="1" height="23" fill="#ffffff" shape-rendering="crispEdges"/>
<rect x="276" y="22" width="26" height="1" fill="#ffffff" shape-rendering="crispEdges"/>
<rect x="428" y="0" width="25" height="22" fill="url(#chk)" shape-rendering="crispEdges"/>
<rect x="428" y="0" width="25" height="1" fill="#a0a0a0" shape-rendering="crispEdges"/>
<rect x="428" y="0" width="1" height="22" fill="#a0a0a0" shape-rendering="crispEdges"/>
<rect x="453" y="0" width="1" height="23" fill="#ffffff" shape-rendering="crispEdges"/>
<rect x="428" y="22" width="26" height="1" fill="#ffffff" shape-rendering="crispEdges"/>
<rect x="456" y="0" width="25" height="22" fill="url(#chk)" shape-rendering="crispEdges"/>
<rect x="456" y="0" width="25" height="1" fill="#a0a0a0" shape-rendering="crispEdges"/>
<rect x="456" y="0" width="1" height="22" fill="#a0a0a0" shape-rendering="crispEdges"/>
<rect x="481" y="0" width="1" height="23" fill="#ffffff" shape-rendering="crispEdges"/>
<rect x="456" y="22" width="26" height="1" fill="#ffffff" shape-rendering="crispEdges"/>
<rect x="616" y="0" width="25" height="22" fill="url(#chk)" shape-rendering="crispEdges"/>
<rect x="616" y="0" width="25" height="1" fill="#a0a0a0" shape-rendering="crispEdges"/>
<rect x="616" y="0" width="1" height="22" fill="#a0a0a0" shape-rendering="crispEdges"/>
<rect x="641" y="0" width="1" height="23" fill="#ffffff" shape-rendering="crispEdges"/>
<rect x="616" y="22" width="26" height="1" fill="#ffffff" shape-rendering="crispEdges"/>
<rect x="1062" y="0" width="25" height="22" fill="url(#chk)" shape-rendering="crispEdges"/>
<rect x="1062" y="0" width="25" height="1" fill="#a0a0a0" shape-rendering="crispEdges"/>
<rect x="1062" y="0" width="1" height="22" fill="#a0a0a0" shape-rendering="crispEdges"/>
<rect x="1087" y="0" width="1" height="23" fill="#ffffff" shape-rendering="crispEdges"/>
<rect x="1062" y="22" width="26" height="1" fill="#ffffff" shape-rendering="crispEdges"/>
<polygon points="516.5,11 522.5,11 519.5,14.2" fill="#000"/>
<polygon points="555.5,11 561.5,11 558.5,14.2" fill="#000"/>
<polygon points="594.5,11 600.5,11 597.5,14.2" fill="#000"/>
<polygon points="900.5,11 906.5,11 903.5,14.2" fill="#000"/>
<path d="M13.5 4.5h7.5l3.5 3.5v9.5a1 1 0 0 1 -1 1h-10a1 1 0 0 1 -1 -1v-12a1 1 0 0 1 1 -1z" fill="#fff" stroke="#8a8a8a" stroke-width="1"/>
<path d="M21 4.5v3.5h3.5" fill="#e8e8e8" stroke="#8a8a8a" stroke-width="0.8"/>
<rect x="14.2" y="6.4" width="3" height="1.2" fill="#909090" />
<rect x="14.2" y="9.6" width="5" height="1" fill="#a8a8a8" />
<rect x="14.2" y="11.8" width="5" height="1" fill="#a8a8a8" />
<rect x="14.2" y="14" width="5" height="1" fill="#a8a8a8" />
<path d="M20.4 10.6h3.2v4h4v3.2h-4v4h-3.2v-4h-4v-3.2h4z" fill="url(#gplus)" stroke="#148a14" stroke-width="0.8"/>
<text x="30.4" y="16" font-size="12" letter-spacing="0.45" fill="#000" stroke="#000" stroke-width="0.25" style="font-family:'Liberation Sans','Noto Sans CJK SC',sans-serif">新订单</text>
<path d="M79.4 13.7L86.6 19L94.4 12.6L94.6 14L86.9 20.3L79.5 15Z" fill="#d8b868" stroke="#9a6408" stroke-width="0.7" stroke-linejoin="round"/>
<path d="M85 5.3L94.5 12.5L86.7 19L79.3 13.6C81.6 12 83.6 8.6 85 5.3Z" fill="url(#ggold)" stroke="#a87010" stroke-width="0.9" stroke-linejoin="round"/>
<path d="M85.3 6.6C84 9.4 82.4 11.8 80.6 13.4" fill="none" stroke="#fff4a8" stroke-width="1"/>
<path d="M109 5.2L112 3.9H119.6L120 13.5H110.5L109 12Z" fill="url(#gblue)" stroke="#1a78e8" stroke-width="0.6"/>
<path d="M112.2 4.5v9" stroke="#bfe0ff" stroke-width="1"/>
<rect x="113.5" y="7.2" width="5" height="1.6" fill="#e8f4ff" />
<rect x="113.5" y="10" width="5" height="1.2" fill="#9cccff" />
<path d="M110.3 19.6a2.8 2.8 0 0 1 -0.3 -5.5a3.3 3.1 0 0 1 6 -1.2a2.8 2.6 0 0 1 3.8 1.6a2.6 2.6 0 0 1 -0.4 5.1z" fill="url(#gcloud)" stroke="#5672b4" stroke-width="1"/>
<g fill="none"><path d="M142.8 11.7L142.8 19.7A8 8 0 0 0 147.5 5.2Z" fill="#a4d4a4" opacity="0.8"/><circle cx="142.8" cy="11.7" r="7.4" stroke="#b4c0dc" stroke-width="1"/><circle cx="142.8" cy="11.7" r="5" stroke="#8aa6e2" stroke-width="1.1"/><circle cx="142.8" cy="11.7" r="2.9" stroke="#6a8ede" stroke-width="1"/><path d="M142.8 11.7V19.6" stroke="#18a018" stroke-width="1.4"/><path d="M142.8 19.4A7.7 7.7 0 0 0 150.4 10" stroke="#7cc07c" stroke-width="1.1"/><circle cx="142.6" cy="11.4" r="1.7" fill="#2a5cd8"/></g>
<path d="M163 10.4L178 10.2L169.8 19.6Z" fill="#f8dc58" stroke="#d0a010" stroke-width="0.8" stroke-linejoin="round"/>
<path d="M162.2 8.6C164 6.6 166 7.6 167 5.2C168 3.4 172.4 3.4 173.4 5.2C174.4 7.6 176.4 6.4 178 8.2C177 10.6 173 11.2 170 11.2C167 11.2 163.2 10.8 162.2 8.6Z" fill="#58a8dc" stroke="#3a86c0" stroke-width="0.7"/>
<ellipse cx="170.2" cy="6.4" rx="3" ry="1.6" fill="#8cc8ec"/>
<circle cx="174.6" cy="15.9" r="4.2" fill="url(#gred)"/>
<rect x="173.1" y="14.4" width="3" height="3" fill="#fff" />
<text x="182.4" y="16" font-size="12" letter-spacing="0.3" fill="#000" stroke="#000" stroke-width="0.25" style="font-family:'Liberation Sans','Noto Sans CJK SC',sans-serif">自动交易</text>
<rect x="256" y="7" width="1" height="13" fill="#555" shape-rendering="crispEdges"/>
<rect x="254" y="17" width="13" height="1" fill="#555" shape-rendering="crispEdges"/>
<polygon points="254.8,8.8 256.5,5.9 258.2,8.8" fill="#555"/>
<polygon points="265.4,15.8 268.2,17.5 265.4,19.2" fill="#555"/>
<rect x="262" y="7" width="1" height="9" fill="#0f8a0f" shape-rendering="crispEdges"/>
<rect x="263" y="8" width="2" height="1" fill="#0f8a0f" shape-rendering="crispEdges"/>
<rect x="260" y="14" width="2" height="1" fill="#0f8a0f" shape-rendering="crispEdges"/>
<rect x="284" y="7" width="1" height="13" fill="#555" shape-rendering="crispEdges"/>
<rect x="282" y="17" width="13" height="1" fill="#555" shape-rendering="crispEdges"/>
<polygon points="282.8,8.8 284.5,5.9 286.2,8.8" fill="#555"/>
<polygon points="293.4,15.8 296.2,17.5 293.4,19.2" fill="#555"/>
<rect x="290" y="4" width="1" height="12" fill="#108810" shape-rendering="crispEdges"/>
<rect x="288.5" y="6.5" width="4" height="7" fill="#58e058" stroke="#108810" stroke-width="1"/>
<rect x="312" y="7" width="1" height="13" fill="#555" shape-rendering="crispEdges"/>
<rect x="310" y="17" width="13" height="1" fill="#555" shape-rendering="crispEdges"/>
<polygon points="310.8,8.8 312.5,5.9 314.2,8.8" fill="#555"/>
<polygon points="321.4,15.8 324.2,17.5 321.4,19.2" fill="#555"/>
<path d="M311 14.8C313.5 13.6 315 9.2 317.4 9.2C319.4 9.2 320.6 12.2 322.8 13" fill="none" stroke="#2a9a2a" stroke-width="1.2"/>
<path d="M351.70000000000005 13.9L356.5 17.8" stroke="#9a7010" stroke-width="3.4" stroke-linecap="round"/>
<path d="M352.1 14.2L356.3 17.6" stroke="#ecd040" stroke-width="2" stroke-linecap="round"/>
<circle cx="348.1" cy="10" r="5.5" fill="url(#glens)" stroke="#3a7cc8" stroke-width="1.2"/>
<rect x="344.90000000000003" y="9.1" width="6.4" height="1.8" fill="#3a88aa" />
<rect x="347.20000000000005" y="6.8" width="1.8" height="6.4" fill="#3a88aa" />
<path d="M379.5 13.9L384.29999999999995 17.8" stroke="#9a7010" stroke-width="3.4" stroke-linecap="round"/>
<path d="M379.9 14.2L384.09999999999997 17.6" stroke="#ecd040" stroke-width="2" stroke-linecap="round"/>
<circle cx="375.9" cy="10" r="5.5" fill="url(#glens)" stroke="#3a7cc8" stroke-width="1.2"/>
<rect x="372.7" y="9.1" width="6.4" height="1.8" fill="#3a88aa" />
<rect x="398" y="4" width="8" height="8" fill="#3a9a18" shape-rendering="crispEdges"/>
<rect x="399" y="7.5" width="6" height="3.5" fill="#fff" />
<rect x="400" y="8.6" width="4" height="1" fill="#a8dc90" />
<rect x="399" y="5" width="1" height="1" fill="#fff" />
<rect x="400.2" y="11" width="3.6" height="1" fill="#3a9a18" />
<rect x="406" y="4" width="8" height="8" fill="#1c48c8" shape-rendering="crispEdges"/>
<rect x="407" y="7.5" width="6" height="3.5" fill="#fff" />
<rect x="408" y="8.6" width="4" height="1" fill="#8aa4f0" />
<rect x="407" y="5" width="1" height="1" fill="#fff" />
<rect x="408.2" y="11" width="3.6" height="1" fill="#1c48c8" />
<rect x="398" y="12" width="8" height="8" fill="#1c48c8" shape-rendering="crispEdges"/>
<rect x="399" y="15.5" width="6" height="3.5" fill="#fff" />
<rect x="400" y="16.6" width="4" height="1" fill="#8aa4f0" />
<rect x="399" y="13" width="1" height="1" fill="#fff" />
<rect x="400.2" y="19" width="3.6" height="1" fill="#1c48c8" />
<rect x="406" y="12" width="8" height="8" fill="#3a9a18" shape-rendering="crispEdges"/>
<rect x="407" y="15.5" width="6" height="3.5" fill="#fff" />
<rect x="408" y="16.6" width="4" height="1" fill="#a8dc90" />
<rect x="407" y="13" width="1" height="1" fill="#fff" />
<rect x="408.2" y="19" width="3.6" height="1" fill="#3a9a18" />
<rect x="436" y="7" width="1" height="13" fill="#555" shape-rendering="crispEdges"/>
<rect x="434" y="17" width="13" height="1" fill="#555" shape-rendering="crispEdges"/>
<polygon points="434.8,8.8 436.5,5.9 438.2,8.8" fill="#555"/>
<polygon points="445.4,15.8 448.2,17.5 445.4,19.2" fill="#555"/>
<polygon points="441.3,8.2 445,11.5 441.3,14.8" fill="#7ae07a" stroke="#18961a" stroke-width="1" stroke-linejoin="round"/>
<rect x="464" y="7" width="1" height="13" fill="#555" shape-rendering="crispEdges"/>
<rect x="462" y="17" width="13" height="1" fill="#555" shape-rendering="crispEdges"/>
<polygon points="462.8,8.8 464.5,5.9 466.2,8.8" fill="#555"/>
<polygon points="473.4,15.8 476.2,17.5 473.4,19.2" fill="#555"/>
<rect x="470" y="6" width="1" height="10" fill="#1a6ab0" shape-rendering="crispEdges"/>
<path d="M476 11.5H472" stroke="#d84a00" stroke-width="1.2"/><polygon points="471.2,11.5 474,9.2 474,13.8" fill="#e85000"/>
<path d="M496.5 4.8h7.5l3.5 3.5v9.5a1 1 0 0 1 -1 1h-10a1 1 0 0 1 -1 -1v-12a1 1 0 0 1 1 -1z" fill="#fff" stroke="#8a8a8a" stroke-width="1"/>
<path d="M504 4.8v3.5h3.5" fill="#e8e8e8" stroke="#8a8a8a" stroke-width="0.8"/>
<text x="497.6" y="14.5" font-size="9" font-style="italic" font-weight="bold" fill="#5a5038" style="font-family:'Liberation Serif',serif">f</text>
<path d="M503.4 10.6h3.2v4h4v3.2h-4v4h-3.2v-4h-4v-3.2h4z" fill="url(#gplus)" stroke="#148a14" stroke-width="0.8"/>
<circle cx="540.9" cy="12" r="6.7" fill="#fff" stroke="url(#gblue2)" stroke-width="2.7"/>
<circle cx="540.9" cy="12" r="4.4" fill="none" stroke="#888" stroke-width="1" stroke-dasharray="0.7 1.604"/>
<path d="M540.7 8V12.1H543.8" fill="none" stroke="#111" stroke-width="1.3"/>
<rect x="572.5" y="5.5" width="15" height="13.5" fill="#fff" stroke="#346eb8" stroke-width="1"/>
<rect x="573" y="6" width="14" height="2.2" fill="#3c80d0" />
<rect x="574" y="6.2" width="6" height="0.9" fill="#a8d0f8" />
<rect x="573" y="12.9" width="14" height="1" fill="#5a8cd0" />
<path d="M574.5 11.4h1.6l1.2-1.2h1.4l1.2-1.2h1.2l1.2 1.2h1.6l1.6-1.4" fill="none" stroke="#a02000" stroke-width="1.1"/>
<path d="M575.2 16.8h1.4l1.2-1.2h1.2l1 1h1l1.6-2h1.2l1.6 2" fill="none" stroke="#109010" stroke-width="1.1"/>
<polygon points="624.3,5 624.3,15.9 626.9,13.7 629,18.9 630.7,18.1 628.6,13.1 631.8,12.8" fill="#4c4c4c"/>
<rect x="649" y="12" width="7" height="1" fill="#3c3c3c" shape-rendering="crispEdges"/>
<rect x="658" y="12" width="6" height="1" fill="#3c3c3c" shape-rendering="crispEdges"/>
<rect x="656" y="5" width="1" height="6" fill="#3c3c3c" shape-rendering="crispEdges"/>
<rect x="656" y="14" width="1" height="6" fill="#3c3c3c" shape-rendering="crispEdges"/>
<rect x="690" y="6" width="1" height="13" fill="#3c3c3c" shape-rendering="crispEdges"/>
<rect x="713" y="12" width="12" height="1" fill="#3c3c3c" shape-rendering="crispEdges"/>
<path d="M741 18.8L753 6.8" stroke="#444" stroke-width="1.1"/>
<g stroke="#3c3c3c" stroke-width="1.2" fill="none"><path d="M767 13.6L775 5.8M767.8 18L780.4 6.2M772 18.8L781 10.4"/><path d="M770 10.4L769.4 17M773.4 8.8L772.6 15.4M778.6 4L777.8 12.4"/></g>
<text x="777.8" y="20.9" font-size="6.8" font-weight="bold" fill="#333" style="font-family:'Liberation Sans',sans-serif">E</text>
<path d="M796 5.5H810" stroke="#4a4a4a" stroke-width="1" stroke-dasharray="1 1" shape-rendering="crispEdges"/>
<path d="M796 8.5H810" stroke="#4a4a4a" stroke-width="1" stroke-dasharray="1 1" shape-rendering="crispEdges"/>
<path d="M796 12.5H810" stroke="#4a4a4a" stroke-width="1" stroke-dasharray="1 1" shape-rendering="crispEdges"/>
<path d="M796 16.5H804" stroke="#4a4a4a" stroke-width="1" stroke-dasharray="1 1" shape-rendering="crispEdges"/>
<text x="805.8" y="20.9" font-size="6.8" font-weight="bold" fill="#333" style="font-family:'Liberation Sans',sans-serif">F</text>
<text transform="translate(827.1 17) scale(0.9 1)" font-size="12.8" fill="#4a4a4a" stroke="#4a4a4a" stroke-width="0.35" style="font-family:'Liberation Sans',sans-serif">A</text>
<rect x="853.5" y="6.5" width="11" height="12" fill="none" stroke="#4a4a4a" stroke-width="1" stroke-dasharray="1 1" shape-rendering="crispEdges"/>
<rect x="852" y="5" width="2" height="1" fill="#4a4a4a" shape-rendering="crispEdges"/>
<rect x="855" y="9" width="8" height="1.4" fill="#4a4a4a" />
<rect x="858.2" y="9" width="1.6" height="7.6" fill="#4a4a4a" />
<polygon points="880,9.4 883.5,5.8 887,9.4 885,9.4 885,10.6 882,10.6 882,9.4" fill="#4a4a4a"/>
<path d="M882.4 13.2L884.6 15.4L888.8 10.4" fill="none" stroke="#4a4a4a" stroke-width="1.3"/>
<polygon points="887,15.2 894,15.2 890.5,18.9" fill="#4a4a4a"/><rect x="889" y="14.2" width="3" height="1.2" fill="#4a4a4a"/>
<text transform="translate(927.00 15.9) scale(0.99 1)" font-size="10" fill="#3a3a3a" stroke="#3a3a3a" stroke-width="0.15" text-rendering="geometricPrecision" style="font-family:'Liberation Sans',sans-serif">M1</text>
<text transform="translate(955.10 15.9) scale(0.98 1)" font-size="10" fill="#3a3a3a" stroke="#3a3a3a" stroke-width="0.15" text-rendering="geometricPrecision" style="font-family:'Liberation Sans',sans-serif">M5</text>
<text transform="translate(981.30 15.9) scale(0.93 1)" font-size="10" fill="#3a3a3a" stroke="#3a3a3a" stroke-width="0.15" text-rendering="geometricPrecision" style="font-family:'Liberation Sans',sans-serif">M15</text>
<text transform="translate(1009.05 15.9) scale(0.935 1)" font-size="10" fill="#3a3a3a" stroke="#3a3a3a" stroke-width="0.15" text-rendering="geometricPrecision" style="font-family:'Liberation Sans',sans-serif">M30</text>
<text transform="translate(1039.90 15.9) scale(1.05 1)" font-size="10" fill="#3a3a3a" stroke="#3a3a3a" stroke-width="0.15" text-rendering="geometricPrecision" style="font-family:'Liberation Sans',sans-serif">H1</text>
<text transform="translate(1066.80 15.9) scale(1.08 1)" font-size="10" fill="#3a3a3a" stroke="#3a3a3a" stroke-width="0.15" text-rendering="geometricPrecision" style="font-family:'Liberation Sans',sans-serif">H4</text>
<text transform="translate(1095.80 15.9) scale(1.04 1)" font-size="10" fill="#3a3a3a" stroke="#3a3a3a" stroke-width="0.15" text-rendering="geometricPrecision" style="font-family:'Liberation Sans',sans-serif">D1</text>
<text transform="translate(1123.50 15.9) scale(1.03 1)" font-size="10" fill="#3a3a3a" stroke="#3a3a3a" stroke-width="0.15" text-rendering="geometricPrecision" style="font-family:'Liberation Sans',sans-serif">W1</text>
<text transform="translate(1149.90 15.9) scale(1.06 1)" font-size="10" fill="#3a3a3a" stroke="#3a3a3a" stroke-width="0.15" text-rendering="geometricPrecision" style="font-family:'Liberation Sans',sans-serif">MN</text>
<path d="M1640 12.8L1636 16.8" stroke="#2c5ad0" stroke-width="2.4" stroke-linecap="round"/>
<circle cx="1643.6" cy="9.4" r="3.9" fill="#f4f4f8" stroke="#2c5ad0" stroke-width="1.2"/>
<path d="M1660.5 14.5a4.8 4 0 1 1 4.2 4l-2.6 2l0.4-2.4a4.6 3.8 0 0 1 -2 -3.6z" fill="#e4e6f0" stroke="#b0b0b8" stroke-width="0.8"/>
<circle cx="1674.6" cy="9.4" r="8.4" fill="url(#gred)"/>
<text x="1674.6" y="14.2" font-size="13.5" text-anchor="middle" fill="#fff" stroke="#fff" stroke-width="0.3" style="font-family:'Liberation Sans',sans-serif">1</text>
</svg>
</div>
</body></html>
